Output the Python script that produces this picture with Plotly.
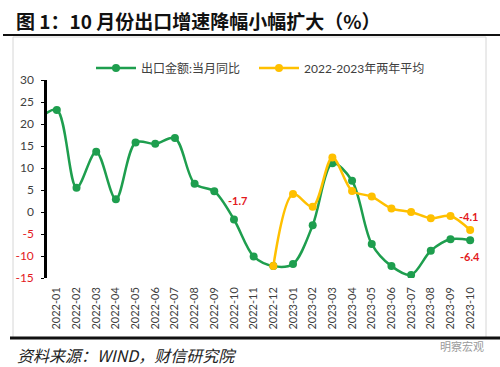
import plotly.graph_objects as go

# ---------------- data ----------------
months = ["2021-12", "2022-01", "2022-02", "2022-03", "2022-04", "2022-05", "2022-06",
          "2022-07", "2022-08", "2022-09", "2022-10", "2022-11", "2022-12",
          "2023-01", "2023-02", "2023-03", "2023-04", "2023-05", "2023-06",
          "2023-07", "2023-08", "2023-09", "2023-10"]
export_yoy = [20.9, 23.2, 5.5, 13.7, 2.9, 15.8, 15.5, 16.8, 6.4, 4.7, -1.7, -10.1, -12.3,
              -11.8, -3.0, 11.1, 7.1, -7.3, -12.3, -14.3, -8.8, -6.2, -6.4]
two_year_avg = [None, None, None, None, None, None, None, None, None, None, None, None, -12.3,
                4.1, 1.2, 12.4, 4.8, 3.5, 0.8, 0.0, -1.4, -0.9, -4.1]
y_ticks = [30, 25, 20, 15, 10, 5, 0, -5, -10, -15]
name_green = "出口金额:当月同比"
name_yellow = "2022-2023年两年平均"
title_text = "图 1：10 月份出口增速降幅小幅扩大（%）"
source_text = "资料来源：WIND，财信研究院"
watermark_text = "明察宏观"

# ---------------- layout geometry ----------------
W, H = 500, 367
L, R, T, B = 47, 20, 80, 89
PW, PH = W - L - R, H - T - B

def px(x):
    return (x - L) / PW

def py(y):
    return 1 - (y - T) / PH

GREEN = "#1E9E4E"
YELLOW = "#FFC000"
RED = "#E3191C"
TXT = "#404040"
FONT = "Lato, 'Noto Sans CJK SC', sans-serif"

xs = list(range(-1, len(months) - 1))   # 2021-12 sits just off the left edge
shown = months[1:]
n = len(shown)

fig = go.Figure()
fig.add_trace(go.Scatter(
    x=xs, y=export_yoy, name=name_green, mode="lines+markers", legend="legend",
    line=dict(color=GREEN, width=2.5, shape="spline", smoothing=0.9),
    marker=dict(color=GREEN, size=8)))
fig.add_trace(go.Scatter(
    x=xs, y=two_year_avg, name=name_yellow, mode="lines+markers", legend="legend2",
    line=dict(color=YELLOW, width=2.5, shape="spline", smoothing=0.9),
    marker=dict(color=YELLOW, size=8)))

def fmt(v):
    return f"{v:.1f}"

annotations = [
    dict(x=xs[10], y=export_yoy[10], text=f"<b>{fmt(export_yoy[10])}</b>", showarrow=False,
         xanchor="center", yanchor="bottom", xshift=4, yshift=10,
         font=dict(color=RED, size=11, family=FONT)),
    dict(x=xs[-1], y=two_year_avg[-1], text=f"<b>{fmt(two_year_avg[-1])}</b>", showarrow=False,
         xanchor="center", yanchor="bottom", xshift=-2, yshift=5,
         font=dict(color=RED, size=11, family=FONT)),
    dict(x=xs[-1], y=export_yoy[-1], text=f"<b>{fmt(export_yoy[-1])}</b>", showarrow=False,
         xanchor="center", yanchor="top", yshift=-8,
         font=dict(color=RED, size=11, family=FONT)),
    dict(xref="paper", yref="paper", x=px(14), y=py(20), text=f"<b>{title_text}</b>",
         showarrow=False, xanchor="left", yanchor="middle",
         font=dict(color="#111111", size=19, family="'Noto Sans CJK SC', sans-serif")),
    dict(xref="paper", yref="paper", x=px(15), y=py(355), text=f"<i>{source_text}</i>",
         showarrow=False, xanchor="left", yanchor="middle",
         font=dict(color="#222222", size=16, family="'Noto Sans CJK SC', sans-serif")),
    dict(xref="paper", yref="paper", x=px(486), y=py(346), text=watermark_text,
         showarrow=False, xanchor="right", yanchor="middle",
         font=dict(color="#9a9a9a", size=11, family="'Noto Sans CJK SC', sans-serif")),
]

shapes = [
    dict(type="rect", xref="paper", yref="paper", x0=px(13), x1=px(486), y0=py(37), y1=py(338),
         line=dict(color="#d6d6d6", width=1), layer="below"),
    dict(type="line", xref="paper", yref="paper", x0=px(3), x1=px(500), y0=py(35), y1=py(35),
         line=dict(color="#111111", width=2)),
    dict(type="line", xref="paper", yref="paper", x0=px(10), x1=px(500), y0=py(338), y1=py(338),
         line=dict(color="#111111", width=3)),
]

ytext = [f'<span style="color:{RED if v < 0 else TXT}">{v}</span>' for v in y_ticks]

legend_common = dict(orientation="h", xref="container", yref="container",
                     xanchor="left", yanchor="middle", itemwidth=40,
                     font=dict(size=12, color=TXT, family=FONT),
                     bgcolor="rgba(0,0,0,0)")

fig.update_layout(
    width=W, height=H, margin=dict(l=L, r=R, t=T, b=B, autoexpand=False),
    paper_bgcolor="white", plot_bgcolor="white",
    font=dict(family=FONT, color=TXT, size=11),
    showlegend=True,
    legend=dict(x=91 / W, y=1 - 68 / H, **legend_common),
    legend2=dict(x=254 / W, y=1 - 68 / H, **legend_common),
    xaxis=dict(range=[-0.5, n - 0.5], tickvals=list(range(n)), ticktext=shown,
               tickangle=-90, showgrid=False, zeroline=False, showline=False, automargin=False,
               ticks="", ticklabelstandoff=6, tickfont=dict(size=11, color=TXT)),
    xaxis2=dict(overlaying="x", anchor="free", position=15 / 45, range=[-0.5, n - 0.5],
                tickvals=[i - 0.5 for i in range(n + 1)], showticklabels=False, automargin=False,
                ticks="outside", ticklen=5, tickwidth=1.5, tickcolor="#000",
                showline=True, linecolor="#000", linewidth=2, showgrid=False, zeroline=False),
    yaxis=dict(range=[-15, 30], tickvals=y_ticks, ticktext=ytext, showgrid=False,
               zeroline=False, showline=True, linecolor="#000", linewidth=2.5, automargin=False,
               ticks="outside", ticklen=3, tickcolor="#000", ticklabelstandoff=5,
               tickfont=dict(size=12)),
    annotations=annotations, shapes=shapes,
)

fig.write_html("out.html", config={"displayModeBar": False},
               post_script="document.body.style.margin='0';document.body.style.overflow='hidden';")
